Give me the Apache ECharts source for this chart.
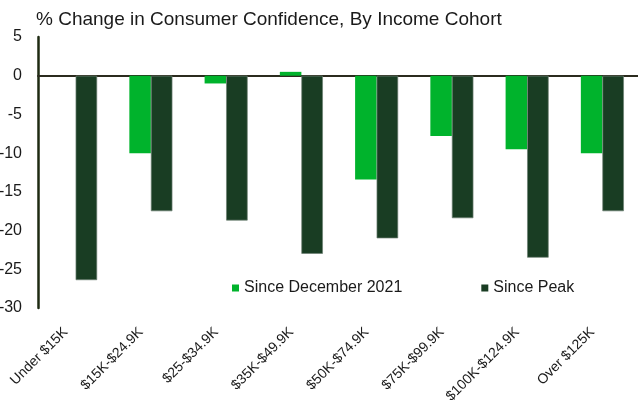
<!DOCTYPE html>
<html>
<head>
<meta charset="utf-8">
<script src="https://cdn.jsdelivr.net/npm/echarts@6/dist/echarts.min.js"></script>
<style>
  html, body { margin: 0; padding: 0; background: #fff; }
  #chart { width: 638px; height: 402px; }
</style>
</head>
<body>
<div id="chart"></div>
<script>
// Income cohorts along the x axis
const cohorts = ['Under $15K', '$15K-$24.9K', '$25-$34.9K', '$35K-$49.9K',
                 '$50K-$74.9K', '$75K-$99.9K', '$100K-$124.9K', 'Over $125K'];

// % change in consumer confidence
const sinceDec2021 = [0, -10.0, -1.0, 0.5, -13.4, -7.8, -9.5, -10.0];
const sincePeak    = [-26.4, -17.5, -18.7, -23.0, -21.0, -18.4, -23.5, -17.5];

const seriesNames = ['Since December 2021', 'Since Peak'];
const titleText = '% Change in Consumer Confidence, By Income Cohort';

const font = 'Liberation Sans, Arial, sans-serif';
const lightGreen = '#00b32c';
const darkGreen = '#193d23';

const chart = echarts.init(document.getElementById('chart'), null, { renderer: 'canvas' });

chart.setOption({
  animation: false,
  backgroundColor: '#ffffff',
  title: {
    text: titleText,
    left: 31,
    top: 5,
    textStyle: { fontFamily: font, fontSize: 19, fontWeight: 'normal', color: '#1a1a1a' }
  },
  legend: {
    data: seriesNames,
    left: 227,
    top: 275,
    itemWidth: 7,
    itemHeight: 7,
    itemGap: 79,
    icon: 'rect',
    itemStyle: { borderWidth: 0 },
    textStyle: { fontFamily: font, fontSize: 16, color: '#1a1a1a' }
  },
  grid: {
    left: 38, right: -2, top: 37, bottom: 94,
    containLabel: false,
    outerBoundsMode: 'none'
  },
  xAxis: [
    {
      type: 'category',
      data: cohorts,
      position: 'bottom',
      axisLine: { show: false, onZero: false },
      axisTick: { show: false },
      axisLabel: {
        rotate: 45,
        interval: 0,
        margin: 12,
        padding: [0, 14, 0, 0],
        fontFamily: font,
        fontSize: 14,
        color: '#1a1a1a'
      }
    },
    {
      // zero baseline
      type: 'category',
      data: cohorts,
      axisLine: { show: true, onZero: true, lineStyle: { color: '#2b2b1e', width: 2 } },
      axisTick: { show: false },
      axisLabel: { show: false }
    }
  ],
  yAxis: {
    type: 'value',
    min: -30,
    max: 5,
    interval: 5,
    axisLine: { show: true, lineStyle: { color: '#1e2a12', width: 2.5 } },
    axisTick: { show: false },
    splitLine: { show: false },
    axisLabel: { margin: 16, fontFamily: font, fontSize: 16, color: '#1a1a1a' }
  },
  series: [
    {
      name: seriesNames[0],
      type: 'bar',
      data: sinceDec2021,
      barGap: '0%',
      barCategoryGap: '42.8%',
      itemStyle: { color: lightGreen }
    },
    {
      name: seriesNames[1],
      type: 'bar',
      data: sincePeak,
      barGap: '0%',
      barCategoryGap: '42.8%',
      itemStyle: { color: darkGreen, borderColor: '#6d8072', borderWidth: 0.7 }
    }
  ]
});
</script>
</body>
</html>
